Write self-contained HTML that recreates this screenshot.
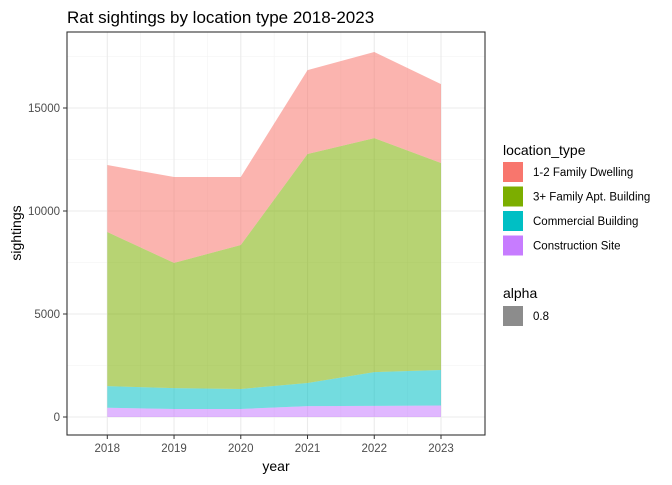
<!DOCTYPE html>
<html><head><meta charset="utf-8"><style>
body{margin:0;background:#fff;font-family:"Liberation Sans",sans-serif}
</style></head><body>
<svg id="c" width="672" height="480" xmlns="http://www.w3.org/2000/svg">
<rect width="672" height="480" fill="#fff"/>
<text x="67" y="23" font-size="17" fill="#000">Rat sightings by location type 2018-2023</text>
<g id="grid"></g>
<g id="areas"></g>
<rect x="67" y="32" width="418" height="403" fill="none" stroke="#333" stroke-width="1.1"/>
<g id="axes"></g>
<text x="276" y="471" font-size="14" text-anchor="middle" fill="#000">year</text>
<text transform="translate(21,233) rotate(-90)" font-size="14" text-anchor="middle" fill="#000">sightings</text>
<g id="legend"></g>
</svg>
<script>
const years=[2018,2019,2020,2021,2022,2023];
const seriesNames=["Construction Site","Commercial Building","3+ Family Apt. Building","1-2 Family Dwelling"];
const construction=[450,390,390,530,540,560];
const commercial=[1050,1010,970,1120,1640,1720];
const family3=[7480,6080,6990,11120,11360,10050];
const family12=[3250,4170,3300,4070,4180,3830];
const colors=["#C77CFF","#00BFC4","#7CAE00","#F8766D"];
const yTicks=[0,5000,10000,15000];
const yMinor=[2500,7500,12500,17500];
const NS="http://www.w3.org/2000/svg";
const x=v=>107.3+(v-2018)*(441-107.3)/5;
const y=v=>417-v*(417-314)/5000;
function mk(t,a,p){const e=document.createElementNS(NS,t);for(const k in a)e.setAttribute(k,a[k]);p.appendChild(e);return e;}
const grid=document.getElementById('grid'),areas=document.getElementById('areas'),axes=document.getElementById('axes'),leg=document.getElementById('legend');
yMinor.forEach(v=>{const l=mk('line',{x1:67,x2:485,y1:y(v),y2:y(v),stroke:'#f2f2f2','stroke-width':0.6},grid);

});
years.slice(0,-1).forEach(v=>{const l=mk('line',{x1:x(v+0.5),x2:x(v+0.5),y1:32,y2:435,stroke:'#f2f2f2','stroke-width':0.6},grid);

});
yTicks.forEach(v=>{const l=mk('line',{x1:67,x2:485,y1:y(v),y2:y(v),stroke:'#ebebeb','stroke-width':1.1},grid);


const t=mk('line',{x1:63,x2:67,y1:y(v),y2:y(v),stroke:'#333'},axes);


const tx=mk('text',{x:60,y:y(v)+4,'font-size':11.5,'text-anchor':'end',fill:'#4d4d4d'},axes);tx.textContent=v;

});
years.forEach(v=>{const l=mk('line',{x1:x(v),x2:x(v),y1:32,y2:435,stroke:'#ebebeb','stroke-width':1.1},grid);


const t=mk('line',{x1:x(v),x2:x(v),y1:435,y2:439,stroke:'#333'},axes);


const tx=mk('text',{x:x(v),y:452,'font-size':11.5,'text-anchor':'middle',fill:'#4d4d4d'},axes);tx.textContent=v;

});
const data=[construction,commercial,family3,family12];
let base=years.map(()=>0);
data.forEach((s,i)=>{const top=base.map((b,j)=>b+s[j]);
let d='M'+years.map((yr,j)=>x(yr)+','+y(top[j])).join('L');
for(let j=years.length-1;j>=0;j--)d+='L'+x(years[j])+','+y(base[j]);
const p=mk('path',{d:d+'Z',fill:colors[i],'fill-opacity':0.55},areas);


base=top;});
const lt=mk('text',{x:503,y:155,'font-size':14,fill:'#000'},leg);lt.textContent='location_type';


const order=[3,2,1,0];
order.forEach((si,k)=>{const yy=162+k*24.5;
const r=mk('rect',{x:503,y:yy,width:20,height:20,fill:colors[si]},leg);


const t=mk('text',{x:533,y:yy+14,'font-size':11.5,fill:'#000'},leg);t.textContent=seriesNames[si];

});
const at=mk('text',{x:503,y:298,'font-size':14,fill:'#000'},leg);at.textContent='alpha';


const ar=mk('rect',{x:503,y:306,width:20,height:20,fill:'#8c8c8c'},leg);


const atx=mk('text',{x:533,y:320,'font-size':11.5,fill:'#000'},leg);atx.textContent='0.8';


</script>
</body></html>
